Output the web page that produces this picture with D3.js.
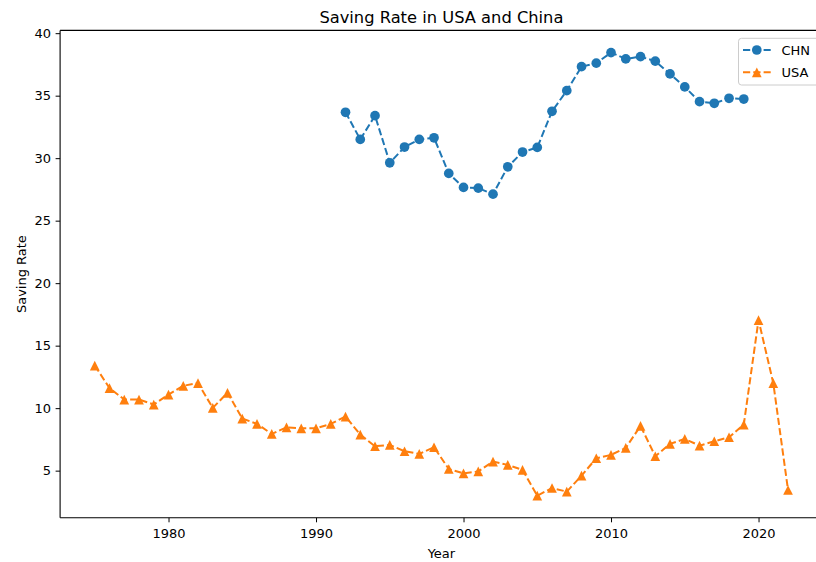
<!DOCTYPE html>
<html><head><meta charset="utf-8">
<script src="https://cdn.jsdelivr.net/npm/d3@7"></script>
<style>html,body{margin:0;padding:0;background:#fff;} svg{display:block;font-family:"DejaVu Sans",sans-serif;}</style>
</head><body>
<script>
const chnYears = d3.range(1992, 2020);
const chnValues = [33.67,31.5,33.4,29.63,30.89,31.5,31.63,28.78,27.66,27.6,27.12,29.31,30.49,30.86,33.75,35.4,37.32,37.6,38.45,37.94,38.12,37.76,36.74,35.7,34.52,34.39,34.79,34.73];
const usaYears = d3.range(1975, 2023);
const usaValues = [13.41,11.6,10.69,10.69,10.29,11.09,11.79,12.0,10.02,11.23,9.17,8.74,7.94,8.47,8.39,8.39,8.74,9.33,7.88,6.95,7.06,6.55,6.34,6.87,5.13,4.78,4.94,5.72,5.46,5.06,3.0,3.61,3.32,4.6,5.99,6.26,6.82,8.58,6.15,7.14,7.54,7.0,7.35,7.67,8.69,17.05,12.0,3.45];
const xTicks = [1980,1990,2000,2010,2020];
const yTicks = [5,10,15,20,25,30,35,40];

const W=816,H=562;
const L=60.1,R=822.7,T=30.4,B=517.8;
const svg=d3.select("body").append("svg").attr("width",W).attr("height",H);

const chn = chnYears.map((y,i)=>({x:y,y:chnValues[i]}));
const usa = usaYears.map((y,i)=>({x:y,y:usaValues[i]}));
const all = chn.concat(usa);
const xe = d3.extent(all,d=>d.x), ye=d3.extent(all,d=>d.y);
const xp=(xe[1]-xe[0])*0.05, yp=(ye[1]-ye[0])*0.05;
const x=d3.scaleLinear().domain([xe[0]-xp,xe[1]+xp]).range([L,R]);
const y=d3.scaleLinear().domain([ye[0]-yp,ye[1]+yp]).range([B,T]);

// axes
const xa=svg.append("g").attr("transform",`translate(0,${B})`)
  .call(d3.axisBottom(x).tickValues(xTicks).tickFormat(d3.format("d")).tickSizeOuter(0).tickSize(4.5).tickPadding(6));
const ya=svg.append("g").attr("transform",`translate(${L},0)`)
  .call(d3.axisLeft(y).tickValues(yTicks).tickFormat(d3.format("d")).tickSizeOuter(0).tickSize(4.5).tickPadding(4.5));
[xa,ya].forEach(g=>{
  g.selectAll("text").attr("font-size",13).attr("font-family","DejaVu Sans").attr("fill","#000");
  g.selectAll("line").attr("stroke","#000").attr("stroke-width",1);
  g.select(".domain").remove();
});
// spines
svg.append("line").attr("x1",L).attr("x2",L).attr("y1",T).attr("y2",B).attr("stroke","#000").attr("stroke-width",1.1);
svg.append("line").attr("x1",L).attr("x2",R).attr("y1",B).attr("y2",B).attr("stroke","#000").attr("stroke-width",1.1);
svg.append("line").attr("x1",L).attr("x2",R).attr("y1",T).attr("y2",T).attr("stroke","#000").attr("stroke-width",1.1);

const line=d3.line().x(d=>x(d.x)).y(d=>y(d.y));
const series=[{name:"CHN",data:chn,color:"#1f77b4",m:"circle"},{name:"USA",data:usa,color:"#ff7f0e",m:"triangle"}];
const ms=9.7;
function marker(g,type,color,cx,cy){
  if(type==="circle") g.append("circle").attr("cx",cx).attr("cy",cy).attr("r",ms/2).attr("fill",color);
  else g.append("path").attr("d",`M${cx},${cy-ms/2}L${cx-ms/2},${cy+ms/2}L${cx+ms/2},${cy+ms/2}Z`).attr("fill",color);
}
series.forEach(s=>{
  svg.append("path").datum(s.data).attr("d",line).attr("fill","none").attr("stroke",s.color)
    .attr("stroke-width",2).attr("stroke-dasharray","7.2,3.1");
  const g=svg.append("g");
  s.data.forEach(d=>marker(g,s.m,s.color,x(d.x),y(d.y)));
});

// title and labels
svg.append("text").attr("x",(L+R)/2).attr("y",23).attr("text-anchor","middle").attr("font-size",16.3).text("Saving Rate in USA and China");
svg.append("text").attr("x",(L+R)/2).attr("y",558).attr("text-anchor","middle").attr("font-size",13).text("Year");
svg.append("text").attr("transform",`translate(26,${(T+B)/2}) rotate(-90)`).attr("text-anchor","middle").attr("font-size",13).text("Saving Rate");

// legend
const lg=svg.append("g");
lg.append("rect").attr("x",738.5).attr("y",38.3).attr("width",100).attr("height",46.7).attr("rx",3)
  .attr("fill","#fff").attr("fill-opacity",0.8).attr("stroke","#ccc").attr("stroke-width",1);
series.forEach((s,i)=>{
  const cy=50+i*22.3;
  lg.append("line").attr("x1",743).attr("x2",770.7).attr("y1",cy).attr("y2",cy).attr("stroke",s.color).attr("stroke-width",2).attr("stroke-dasharray","7.2,3.1");
  marker(lg,s.m,s.color,756.8,cy);
  lg.append("text").attr("x",781.5).attr("y",cy+4.6).attr("font-size",13).text(s.name);
});
</script>
</body></html>
